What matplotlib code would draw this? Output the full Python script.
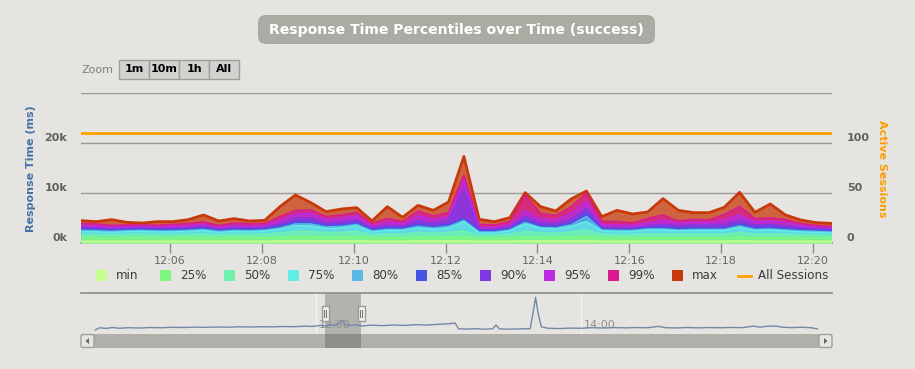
import pandas as pd
import matplotlib
matplotlib.use('Agg')
import matplotlib.pyplot as plt
import matplotlib.dates as mdates
from matplotlib.patches import FancyBboxPatch, Rectangle, Polygon
from matplotlib.ticker import FixedLocator, FuncFormatter

plt.rcParams['font.family'] = ['DejaVu Sans']

# ---- data ------------------------------------------------------------------
times = pd.date_range('2016-01-01 12:04:04', periods=50, freq='20s')

resp_max = [4470, 4270, 4670, 4130, 4000, 4270, 4270, 4670, 5600, 4400,
            4870, 4400, 4530, 7300, 9600, 8070, 6270, 6800, 7070, 4400,
            7270, 5130, 7530, 6530, 8200, 17300, 4730, 4270, 5070, 10070,
            7270, 6400, 8800, 10400, 5270, 6530, 5800, 6200, 8870, 6530,
            6070, 6070, 7130, 10130, 6130, 7800, 5600, 4600, 4070, 3930]
resp_p99 = [3900, 3800, 3500, 3600, 3600, 3550, 3700, 3900, 4200, 3500,
            4000, 3800, 3900, 5300, 6500, 6600, 5300, 5600, 6100, 3900,
            4900, 4300, 6400, 5400, 6100, 13600, 3700, 3600, 4300, 9600,
            5900, 5500, 7200, 10000, 4300, 4300, 4000, 4900, 5600, 4400,
            4700, 4600, 5700, 7300, 4900, 5000, 4700, 3900, 3500, 3300]
resp_p95 = [3500, 3400, 3200, 3250, 3300, 3200, 3300, 3450, 3700, 3100,
            3500, 3400, 3500, 4600, 5800, 5900, 4700, 5000, 5400, 3400,
            4200, 3800, 5500, 4700, 5300, 12500, 3200, 3100, 3700, 6500,
            4900, 4600, 6000, 8300, 3700, 3600, 3500, 4000, 4600, 3900,
            4200, 4100, 4600, 5600, 4300, 4400, 4100, 3500, 3200, 3000]
resp_p90 = [3050, 2950, 2800, 2900, 2950, 2850, 2900, 3000, 3200, 2800,
            3000, 2950, 3050, 3800, 5000, 5000, 4000, 4200, 4600, 3000,
            3500, 3300, 4500, 3900, 4600, 10600, 2700, 2700, 3100, 5300,
            4000, 3800, 4800, 6900, 3100, 3000, 3000, 3400, 3700, 3400,
            3600, 3600, 3700, 4600, 3600, 3700, 3400, 3000, 2800, 2700]
resp_p85 = [2700, 2650, 2500, 2600, 2700, 2600, 2600, 2700, 2900, 2500,
            2700, 2650, 2750, 3300, 4200, 4200, 3500, 3600, 4000, 2600,
            3000, 2900, 3700, 3300, 3700, 4900, 2400, 2400, 2800, 4600,
            3400, 3300, 4000, 5900, 2800, 2700, 2700, 3000, 3100, 2900,
            3000, 3000, 3000, 3800, 3000, 3100, 2900, 2600, 2500, 2400]
resp_p80 = [2500, 2450, 2300, 2450, 2500, 2400, 2400, 2500, 2700, 2300,
            2500, 2450, 2550, 3000, 3800, 3800, 3200, 3300, 3700, 2400,
            2700, 2700, 3300, 3000, 3300, 4500, 2200, 2200, 2600, 4100,
            3100, 3000, 3600, 5300, 2600, 2500, 2500, 2800, 2800, 2600,
            2700, 2700, 2700, 3400, 2700, 2800, 2600, 2400, 2300, 2200]
resp_p75 = [2250, 2200, 2100, 2250, 2300, 2200, 2200, 2300, 2450, 2100,
            2300, 2250, 2350, 2750, 3450, 3400, 2900, 3000, 3400, 2200,
            2500, 2500, 3000, 2700, 3000, 4200, 2000, 2000, 2400, 3800,
            2900, 2800, 3300, 4300, 2400, 2300, 2300, 2600, 2600, 2400,
            2500, 2500, 2500, 3100, 2500, 2600, 2400, 2200, 2100, 2000]
resp_p50 = [1700, 1650, 1600, 1700, 1750, 1650, 1650, 1700, 1800, 1600,
            1700, 1700, 1750, 2000, 2300, 2300, 2100, 2100, 2300, 1600,
            1800, 1800, 2100, 1900, 2100, 2400, 1500, 1500, 1700, 2300,
            2000, 1900, 2200, 2600, 1700, 1650, 1650, 1800, 1800, 1700,
            1750, 1750, 1750, 2100, 1750, 1800, 1700, 1600, 1550, 1500]
resp_p25 = [1100, 1100, 1050, 1100, 1100, 1050, 1050, 1100, 1150, 1050,
            1100, 1100, 1100, 1200, 1300, 1300, 1250, 1250, 1300, 1050,
            1100, 1100, 1200, 1150, 1200, 1300, 1000, 1000, 1050, 1250,
            1200, 1150, 1250, 1400, 1050, 1050, 1050, 1100, 1100, 1050,
            1100, 1100, 1100, 1200, 1100, 1100, 1050, 1050, 1000, 1000]
resp_min = [350, 350, 350, 350, 350, 350, 350, 350, 350, 350,
            350, 350, 350, 400, 400, 400, 400, 400, 400, 350,
            350, 350, 400, 400, 400, 400, 350, 350, 350, 400,
            400, 400, 400, 400, 350, 350, 350, 350, 350, 350,
            350, 350, 350, 400, 350, 350, 350, 350, 350, 350]
active_sessions = [110] * 50

series_names = ['min', '25%', '50%', '75%', '80%', '85%', '90%', '95%', '99%', 'max']
series_colors = ['#C4FD90', '#7FF77F', '#6FF2AD', '#61EDE6', '#58B9E5',
                 '#4753E4', '#7D3AE3', '#B92AE2', '#D81B8E', '#C8390A']
series_values = [resp_min, resp_p25, resp_p50, resp_p75, resp_p80,
                 resp_p85, resp_p90, resp_p95, resp_p99, resp_max]

# navigator (overview) series, minutes relative to 12:00
nav_minutes = [-100, -98, -95, -92, -89, -85, -80, -75, -70, -65, -60, -55, -50,
               -45, -40, -35, -30, -25, -20, -15, -10, -5, -2, 0, 2, 4, 6, 8, 10,
               12, 13, 15, 18, 21, 25, 30, 35, 40, 45, 50, 55, 60, 63, 64.5, 68,
               72, 76, 80, 81.5, 83, 88, 93, 97, 98.5, 99.4, 100.5, 102, 105,
               110, 115, 120, 125, 130, 135, 140, 145, 150, 155, 158, 163, 168,
               173, 178, 183, 188, 193, 198, 201, 204, 208, 211, 215, 220, 224, 227]
nav_values = [4900, 7600, 6800, 7900, 7000, 7700, 7300, 7900, 7600, 8200, 7900,
              8400, 8100, 8500, 8300, 8800, 8500, 8900, 8700, 9100, 8900, 9600,
              9300, 9700, 10500, 9900, 11000, 10400, 11600, 17000, 12000, 10400,
              11300, 9800, 10800, 10200, 11000, 10500, 11400, 10900, 11800, 12500,
              13300, 6400, 6000, 6500, 5900, 6300, 11000, 6200, 5900, 6300, 6600,
              30000, 44800, 26000, 8700, 7000, 6600, 7200, 7000, 7700, 7300, 7800,
              7500, 7900, 7600, 9300, 7700, 7400, 7900, 7500, 7900, 7600, 8000,
              7700, 9600, 8400, 9400, 9700, 8300, 7800, 8200, 7700, 6200]

# ---- figure ----------------------------------------------------------------
W, H = 915, 369
BG = '#E5E4E0'
fig = plt.figure(figsize=(W / 100, H / 100), dpi=100, facecolor=BG)


def box(x0, y0, x1, y1):
    # pixel box (top-left origin) -> figure fraction rect
    return [x0 / W, 1 - y1 / H, (x1 - x0) / W, (y1 - y0) / H]


ax = fig.add_axes(box(81, 93, 831.5, 243))
ax.set_facecolor(BG)
t = mdates.date2num(times)

for i in range(len(series_names) - 1, -1, -1):
    z = 2 + (len(series_names) - i) * 0.1
    ax.fill_between(t, 0, series_values[i], color=series_colors[i],
                    alpha=0.75, lw=0, zorder=z)
    ax.plot(t, series_values[i], color=series_colors[i],
            lw=2 if i == len(series_names) - 1 else 1.2, zorder=z + 0.05)

ax.set_xlim(t[0], t[-1])
ax.set_ylim(0, 30000)
ax.yaxis.set_major_locator(FixedLocator([0, 10000, 20000, 30000]))
ax.yaxis.set_major_formatter(FuncFormatter(
    lambda v, p: '' if v >= 30000 else f'{int(v / 1000)}k'))
ax.grid(axis='y', color='#9A9A9A', lw=1, zorder=0)
ax.set_axisbelow(True)
for s in ['top', 'left', 'right']:
    ax.spines[s].set_visible(False)
ax.spines['bottom'].set_color('#8C8C8C')
ax.spines['bottom'].set_linewidth(1.2)
ax.xaxis.set_major_locator(mdates.MinuteLocator(byminute=range(0, 60, 2)))
ax.xaxis.set_major_formatter(mdates.DateFormatter('%H:%M'))
ax.tick_params(axis='x', length=7.2, width=1, color='#8C8C8C', pad=2,
               labelsize=8, labelcolor='#666666')
ax.tick_params(axis='y', length=0, pad=10, labelsize=8, labelcolor='#606060')
for lab in ax.get_yticklabels():
    lab.set_fontweight('bold')
    lab.set_va('bottom')

ax2 = ax.twinx()
ax2.set_ylim(0, 150)
ax2.plot(t, active_sessions, color='#FFA000', lw=2, zorder=5)
ax2.yaxis.set_major_locator(FixedLocator([0, 50, 100, 150]))
ax2.yaxis.set_major_formatter(FuncFormatter(
    lambda v, p: '' if v >= 150 else f'{int(v)}'))
ax2.tick_params(axis='y', length=0, pad=11, labelsize=8, labelcolor='#606060')
for lab in ax2.get_yticklabels():
    lab.set_fontweight('bold')
    lab.set_va('bottom')
for s in ax2.spines.values():
    s.set_visible(False)

# ---- navigator ---------------------------------------------------------------
nav = fig.add_axes(box(81, 293, 832, 334))
nav.set_facecolor('none')
nav.set_xlim(-106.4, 233.6)
nav.set_ylim(0, 50000)
for s in ['left', 'right', 'bottom']:
    nav.spines[s].set_visible(False)
nav.spines['top'].set_color('#8C8C8C')
nav.spines['top'].set_linewidth(1.2)
nav.set_xticks([])
nav.set_yticks([])
nav.axvspan(4.07, 20.4, color='#B3B2AC', lw=0, zorder=1)
for m, lab in [(0, '12:00'), (120, '14:00')]:
    nav.axvline(m, color='#F4F4F2', lw=1, zorder=2)
    nav.text(m + 1.2, 10500, lab, fontsize=8, color='#8F8F8F', ha='left',
             va='center', zorder=2)
nav.plot(nav_minutes, nav_values, color='#7488A6', lw=1, zorder=3)

# ---- decorations in pixel coordinates -----------------------------------------
deco = fig.add_axes([0, 0, 1, 1], zorder=10)
deco.set_xlim(0, W)
deco.set_ylim(H, 0)
deco.axis('off')
deco.patch.set_visible(False)

# title
deco.add_patch(FancyBboxPatch((258, 15), 397, 29,
                              boxstyle='round,pad=0,rounding_size=8',
                              fc='#ABAAA3', ec='none'))
deco.text(456.5, 30, 'Response Time Percentiles over Time (success)',
          ha='center', va='center', fontsize=10.1, fontweight='bold', color='white')

# range selector buttons
deco.text(81, 70, 'Zoom', ha='left', va='center', fontsize=8, color='#7F7F7F')
for x0, lab in [(119, '1m'), (149, '10m'), (179, '1h'), (209, 'All')]:
    deco.add_patch(Rectangle((x0, 60), 30, 19, fc='#D3D2CF', ec='#9E9E9E', lw=1))
    deco.text(x0 + 15, 69.5, lab, ha='center', va='center', fontsize=8,
              fontweight='bold', color='black')

# axis titles
deco.text(31, 169, 'Response Time (ms)', rotation=90, ha='center', va='center',
          fontsize=8, fontweight='bold', color='#4572A7')
deco.text(882, 169, 'Active Sessions', rotation=270, ha='center', va='center',
          fontsize=8, fontweight='bold', color='#FF9B00')

# legend
for i, (name, col) in enumerate(zip(series_names, series_colors)):
    x0 = 96 + 64 * i
    deco.add_patch(Rectangle((x0, 270), 11, 11, fc=col, ec='none'))
    deco.text(x0 + 20, 275.5, name, ha='left', va='center', fontsize=8.6,
              color='#3C3C3C')
deco.plot([738, 751], [275.5, 275.5], color='#FFA000', lw=2)
deco.text(758, 275.5, 'All Sessions', ha='left', va='center', fontsize=8.6,
          color='#3C3C3C')

# scrollbar
deco.add_patch(Rectangle((81, 334), 751, 14, fc='#B0AFA9', ec='none'))
deco.add_patch(Rectangle((325, 334), 36, 14, fc='#8F8E89', ec='none'))
for bx in (81, 819):
    deco.add_patch(FancyBboxPatch((bx, 334.5), 13, 13,
                                  boxstyle='round,pad=0,rounding_size=2',
                                  fc='#E6E5E2', ec='#A0A0A0', lw=1))
deco.add_patch(Polygon([[89, 338], [89, 344], [85.5, 341]], fc='#666666'))
deco.add_patch(Polygon([[824, 338], [824, 344], [827.5, 341]], fc='#666666'))

# navigator handles
for hx in (325, 361):
    deco.add_patch(Rectangle((hx - 3.5, 306), 7, 15, fc='#F2F2F2', ec='#999999', lw=1))
    deco.plot([hx - 1, hx - 1], [310, 317], color='#777777', lw=0.8)
    deco.plot([hx + 1, hx + 1], [310, 317], color='#777777', lw=0.8)

fig.savefig('out.png', dpi=100, facecolor=BG)
